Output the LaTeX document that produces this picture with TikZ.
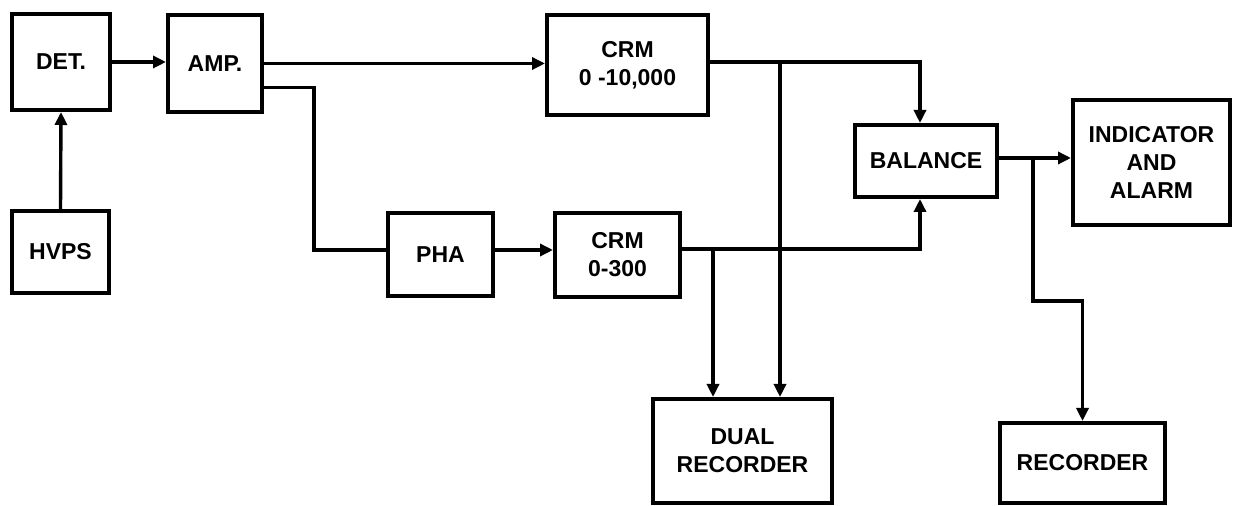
\documentclass[tikz,border=0pt]{standalone}
\usepackage{fontspec}
\setmainfont{Liberation Sans}
\usetikzlibrary{arrows.meta}
\begin{document}
\begin{tikzpicture}[x=0.5pt,y=-0.5pt,
  box/.style={draw, line width=2pt, rectangle, inner sep=0pt, align=center,
    font=\fontsize{11.5}{14}\selectfont\bfseries},
  wire/.style={line width=1.7pt},
  arr/.style={wire, -{Triangle[length=6.5pt,width=6pt]}}]
\useasboundingbox (0,0) rectangle (1236,506);
\node[box, minimum width=49pt, minimum height=48pt] (det) at (61,62) {DET.};
\node[box, minimum width=47pt, minimum height=48.5pt] (amp) at (215,63.5) {AMP.};
\node[box, minimum width=48.5pt, minimum height=41pt] (hvps) at (60.5,252) {HVPS};
\node[box, minimum width=80.5pt, minimum height=50pt] (crma) at (627.5,65) {CRM\\0 -10,000};
\node[box, minimum width=52.5pt, minimum height=41.5pt] (pha) at (440.5,254.5) {PHA};
\node[box, minimum width=62.5pt, minimum height=42pt] (crmb) at (617.5,255) {CRM\\0-300};
\node[box, minimum width=71pt, minimum height=36pt] (bal) at (926,161) {BALANCE};
\node[box, minimum width=78.5pt, minimum height=62.5pt] (ind) at (1151.5,162.5) {INDICATOR\\AND\\ALARM};
\node[box, minimum width=89.5pt, minimum height=52pt] (dual) at (742.5,451) {DUAL\\RECORDER};
\node[box, minimum width=82.5pt, minimum height=40pt] (rec) at (1082.5,463) {RECORDER};
\coordinate (ja) at (780,62);
\coordinate (jb) at (713,249);
\coordinate (jc) at (1033,158);
% connectors
\draw[arr] (hvps.north) -- (det.south);
\draw[arr] (det.east) -- (det.east -| amp.west);
\draw[arr] (amp.east) -- (amp.east -| crma.west);
\draw[wire] ([yshift=-12pt]amp.east) -- ++(50,0) |- ([yshift=2.25pt]pha.west);
\draw[arr] ([yshift=2.25pt]pha.east) -- ([yshift=2.5pt]crmb.west);
\draw[arr] ([yshift=1.5pt]crma.east) -| ([xshift=-3pt]bal.north);
\draw[arr] ([yshift=3pt]crmb.east) -| ([xshift=-3pt]bal.south);
\draw[arr] (ja) -- (ja |- dual.north);
\draw[arr] (jb) -- (jb |- dual.north);
\draw[arr] ([yshift=1.5pt]bal.east) -- ([yshift=1.5pt]bal.east -| ind.west);
\draw[arr] (jc) -- ++(0,143) -| (rec.north);
\end{tikzpicture}
\end{document}
